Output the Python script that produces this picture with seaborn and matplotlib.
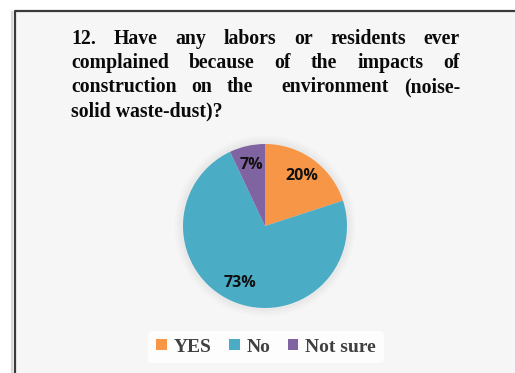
import matplotlib
matplotlib.use("Agg")
import matplotlib.pyplot as plt
from matplotlib.patches import Rectangle
from matplotlib.lines import Line2D
from matplotlib.transforms import IdentityTransform
import seaborn as sns

# Survey answers and their shares
categories = ["YES", "No", "Not sure"]
shares = [20, 73, 7]
colors = ["#F79646", "#4BACC6", "#8064A2"]

title_lines = [
    "12. Have any labors or residents ever",
    "complained because of the impacts of",
    "construction on the  environment (noise-",
    "solid waste-dust)?",
]

sns.set_theme(style="white")
plt.rcParams["font.family"] = ["Liberation Serif", "DejaVu Serif"]

W, H = 515, 373
fig = plt.figure(figsize=(W / 100, H / 100), dpi=100)
fig.patch.set_facecolor("white")

# Chart panel background and its left/top frame
fig.patches.append(Rectangle((14 / W, 0), 1 - 14 / W, 1 - 10 / H,
                             transform=fig.transFigure, facecolor="#f6f6f6",
                             edgecolor="none", zorder=-5))
fig.lines.append(Line2D([14.5 / W, 14.5 / W, 1], [0, 1 - 10.5 / H, 1 - 10.5 / H],
                        transform=fig.transFigure, color="#3a3a3a", lw=1.6, zorder=-4))
fig.lines.append(Line2D([12 / W, 12 / W], [0, 1 - 12 / H],
                        transform=fig.transFigure, color="#d8d8d8", lw=1.5, zorder=-4))

# Pie
cx, cy, r = 265, 226, 82
ax = fig.add_axes([(cx - r - 12) / W, (H - cy - r - 12) / H,
                   (2 * r + 24) / W, (2 * r + 24) / H])
ax.set_zorder(2)
ax.patch.set_visible(False)
lim = (r + 12) / r
palette = sns.color_palette(colors)
# soft halo behind the pie
for k, a in [(1.10, 0.035), (1.07, 0.045), (1.04, 0.06)]:
    ax.add_patch(plt.Circle((0, 0), k, color="#9a9a9a", alpha=a, lw=0))
wedges, texts, autotexts = ax.pie(
    shares, colors=palette, startangle=90, counterclock=False,
    autopct=lambda p: f"{p:.0f}%", pctdistance=0.76,
    wedgeprops=dict(edgecolor="none"),
    textprops=dict(family="Open Sans", weight="bold", fontsize=11.5, color="#111111"),
)
ax.set_xlim(-lim, lim)
ax.set_ylim(-lim, lim)
ax.set_aspect("auto")
ax.axis("off")

# Justified title, word by word
renderer = fig.canvas.get_renderer()
tkw = dict(fontsize=14.2, weight="bold", color="#0a0a0a", family="Liberation Serif",
           transform=IdentityTransform(), va="baseline", ha="left")
left, right = 71, 460
baselines = [44, 68, 92, 116]
for i, line in enumerate(title_lines):
    ybase = H - baselines[i]
    if i == len(title_lines) - 1:
        fig.text(left, ybase, line, **tkw)
        continue
    words = line.split(" ")
    texts_w = [fig.text(0, ybase, w, **tkw) for w in words]
    widths = [t.get_window_extent(renderer).width if w else 0
              for t, w in zip(texts_w, words)]
    gap = (right - left - sum(widths)) / (len(words) - 1)
    x = left
    for t, w in zip(texts_w, widths):
        t.set_x(x)
        x += w + gap

# Legend
leg = fig.legend(wedges, categories, loc="center",
                 bbox_to_anchor=(266 / W, 1 - 347 / H), ncol=3,
                 frameon=True, handlelength=0.55, handleheight=0.55,
                 handletextpad=0.35, columnspacing=0.9,
                 prop=dict(family="Liberation Serif", weight="bold", size=14))
leg.get_frame().set_facecolor("white")
leg.get_frame().set_edgecolor("none")
leg.get_frame().set_alpha(0.8)
for t in leg.get_texts():
    t.set_color("#404040")

fig.savefig("out.png", dpi=100)
